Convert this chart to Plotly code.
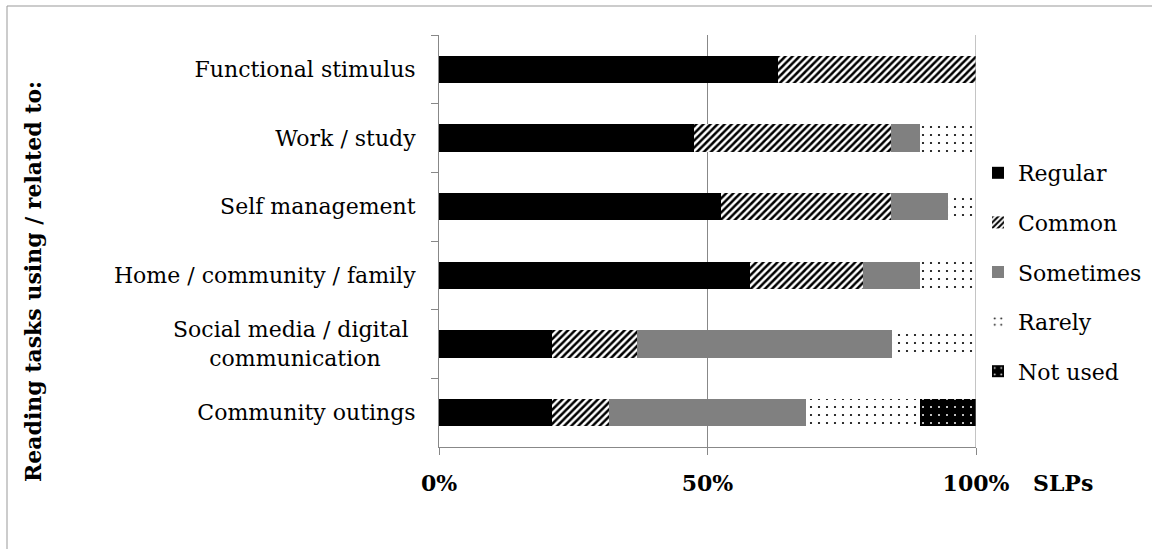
import plotly.graph_objects as go

categories = [
    "Functional stimulus",
    "Work / study",
    "Self management",
    "Home / community / family",
    "Social media / digital\u00a0<br>communication\u00a0\u00a0\u00a0\u00a0\u00a0",
    "Community outings",
]
regular = [63.2, 47.4, 52.6, 57.9, 21.1, 21.1]
common = [36.8, 36.8, 31.6, 21.1, 15.8, 10.5]
sometimes = [0.0, 5.3, 10.5, 10.5, 47.4, 36.8]
rarely = [0.0, 10.5, 5.3, 10.5, 15.7, 21.1]
not_used = [0.0, 0.0, 0.0, 0.0, 0.0, 10.5]
x_ticks = [0, 50, 100]
x_ticktext = ["0%", "50%", "100%"]

FONT = "DejaVu Serif"
GRID = "#888888"

fig = go.Figure()

series = [
    ("Regular", regular, dict(color="black")),
    ("Common", common, dict(color="white", pattern=dict(shape="/", fgcolor="black", bgcolor="white", size=5, solidity=0.5, fillmode="replace"))),
    ("Sometimes", sometimes, dict(color="#808080")),
    ("Rarely", rarely, dict(color="white", pattern=dict(shape=".", fgcolor="black", bgcolor="white", size=8, solidity=0.06, fillmode="replace"))),
    ("Not used", not_used, dict(color="black", pattern=dict(shape=".", fgcolor="white", bgcolor="black", size=8, solidity=0.05, fillmode="replace"))),
]
for name, vals, marker in series:
    marker = dict(marker)
    marker["line"] = dict(width=0)
    fig.add_trace(go.Bar(
        y=categories, x=vals, name=name, orientation="h",
        marker=marker, legendgroup=name,
    ))

L, R, T, B = 439, 176, 35, 103
W, H = 1152, 550
pw = W - L - R
ph = H - T - B

def px_x(p):
    return (p - L) / pw

def px_y(p):
    return (H - B - p) / ph

fig.update_layout(
    width=W, height=H,
    margin=dict(l=L, r=R, t=T, b=B, pad=0, autoexpand=False),
    barmode="stack",
    bargap=0.6,
    plot_bgcolor="white",
    paper_bgcolor="white",
    font=dict(family=FONT, size=22, color="black"),
    legend=dict(
        x=px_x(978), xanchor="left",
        y=px_y(272), yanchor="middle",
        font=dict(family=FONT, size=22, color="black"),
        tracegroupgap=18,
        bgcolor="rgba(0,0,0,0)",
    ),
    xaxis=dict(
        range=[0, 100],
        tickvals=x_ticks, ticktext=x_ticktext,
        tickfont=dict(family=FONT, size=22, weight="bold"),
        showgrid=True, gridcolor=GRID, gridwidth=1,
        showline=True, linecolor=GRID, linewidth=1,
        ticks="outside", ticklen=7, tickcolor=GRID,
        ticklabelstandoff=10,
        zeroline=False,
        fixedrange=True,
    ),
    yaxis=dict(
        autorange="reversed",
        showgrid=False,
        showline=True, linecolor=GRID, linewidth=1,
        ticks="outside", ticklen=7, tickcolor=GRID,
        tickson="boundaries",
        tickfont=dict(family=FONT, size=22),
        ticklabelstandoff=18,
    ),
    annotations=[
        dict(text="<b>Reading tasks using / related to:</b>", textangle=-90,
             xref="paper", yref="paper", x=px_x(33), y=px_y(282),
             xanchor="center", yanchor="middle", showarrow=False,
             font=dict(family=FONT, size=22, color="black")),
        dict(text="<b>SLPs</b>",
             xref="paper", yref="paper", x=px_x(1063), y=px_y(483),
             xanchor="center", yanchor="middle", showarrow=False,
             font=dict(family=FONT, size=22, color="black")),
    ],
    shapes=[
        dict(type="line", xref="x", yref="paper",
             x0=100, x1=100, y0=0, y1=1,
             line=dict(color=GRID, width=1)),
        dict(type="line", xref="paper", yref="paper",
             x0=px_x(7), x1=px_x(1152), y0=px_y(6), y1=px_y(6),
             line=dict(color="#999999", width=1)),
        dict(type="line", xref="paper", yref="paper",
             x0=px_x(7), x1=px_x(7), y0=px_y(6), y1=px_y(549),
             line=dict(color="#999999", width=1)),
    ],
)

fig.write_html(
    "out.html",
    post_script="document.body.style.margin='0';document.body.style.overflow='hidden';",
)
